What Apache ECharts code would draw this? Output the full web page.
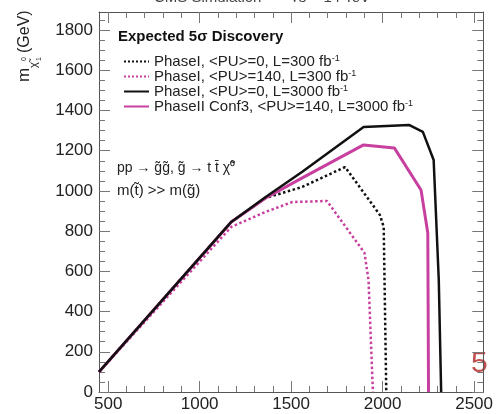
<!DOCTYPE html>
<html>
<head>
<meta charset="utf-8">
<script src="https://cdn.jsdelivr.net/npm/echarts@6/dist/echarts.min.js"></script>
<style>html,body{margin:0;padding:0;background:#fff}#c{width:496px;height:414px}</style>
</head>
<body>
<div id="c"></div>
<script>
// ---- data (gluino mass vs neutralino mass, 5 sigma discovery contours) ----
const phaseI_PU0_300_x   = [450, 1173, 1361, 1561, 1795, 1985, 2006, 2020];
const phaseI_PU0_300_y   = [100,  846,  965, 1020, 1119,  881,  821,    0];
const phaseI_PU140_300_x = [450, 1173, 1361, 1507, 1696, 1901, 1923, 1947];
const phaseI_PU140_300_y = [100,  821,  896,  945,  950,  692,  557,    0];
const phaseI_PU0_3000_x  = [450, 1173, 1361, 1561, 1896, 2144, 2220, 2279, 2307, 2320];
const phaseI_PU0_3000_y  = [100,  846,  970, 1095, 1318, 1328, 1294, 1154,  557,    0];
const phaseII_PU140_3000_x = [450, 1173, 1361, 1561, 1896, 2064, 2210, 2247, 2251];
const phaseII_PU140_3000_y = [100,  846,  965, 1065, 1229, 1214, 1005,  791,    0];

const seriesNames = ['PhaseI, <PU>=0, L=300', 'PhaseI, <PU>=140, L=300', 'PhaseI, <PU>=0, L=3000', 'PhaseII Conf3, <PU>=140, L=3000'];
const xTickLabels = [500, 1000, 1500, 2000, 2500];
const xMinorTicks = [500,600,700,800,900,1000,1100,1200,1300,1400,1500,1600,1700,1800,1900,2000,2100,2200,2300,2400,2500];
const yTickLabels = [0, 200, 400, 600, 800, 1000, 1200, 1400, 1600, 1800];
const yMinorTicks = [0,50,100,150,200,250,300,350,400,450,500,550,600,650,700,750,800,850,900,950,1000,1050,1100,1150,1200,1250,1300,1350,1400,1450,1500,1550,1600,1650,1700,1750,1800,1850];

const zip = (xs, ys) => xs.map((x, i) => [x, ys[i]]);
const FONT = 'Liberation Sans, Arial, sans-serif';
const AX = '#555';
const MAG = '#c8409f';

function xAx(pos, major) {
  return {
    type: 'value', min: 450, max: 2550, position: pos,
    axisLine: { show: major, onZero: false, lineStyle: { color: AX, width: 1 } },
    axisTick: { show: true, inside: true, length: major ? 11 : 6, customValues: major ? xTickLabels : xMinorTicks, lineStyle: { color: '#777', width: 1 } },
    axisLabel: { show: major && pos === 'bottom', customValues: xTickLabels, formatter: v => String(v), fontSize: 17, color: '#222', fontFamily: FONT, margin: 4 },
    splitLine: { show: false }
  };
}
function yAx(pos, major) {
  return {
    type: 'value', min: 0, max: 1890, position: pos,
    axisLine: { show: major, onZero: false, lineStyle: { color: AX, width: 1 } },
    axisTick: { show: true, inside: true, length: major ? 11 : 6, customValues: major ? yTickLabels : yMinorTicks, lineStyle: { color: '#777', width: 1 } },
    axisLabel: { show: major && pos === 'left', customValues: yTickLabels, formatter: v => String(v), fontSize: 17, color: '#222', fontFamily: FONT, margin: 6 },
    splitLine: { show: false }
  };
}

const chart = echarts.init(document.getElementById('c'), null, { renderer: 'canvas' });
chart.setOption({
  animation: false,
  backgroundColor: '#fff',
  grid: { left: 99, right: 8, top: 12, bottom: 22, containLabel: false },
  xAxis: [xAx('bottom', true), xAx('bottom', false), xAx('top', true), xAx('top', false)],
  yAxis: [yAx('left', true), yAx('left', false), yAx('right', true), yAx('right', false)],
  legend: {
    orient: 'vertical', left: 118, top: 49, itemWidth: 25, itemHeight: 10, itemGap: 0,
    data: seriesNames,
    itemStyle: { opacity: 0 },
    textStyle: { fontFamily: FONT, fontSize: 15, color: '#222', lineHeight: 15,
      rich: { t: { fontFamily: FONT, fontSize: 15, color: '#222', lineHeight: 15 }, s: { fontFamily: FONT, fontSize: 9, color: '#222', lineHeight: 15, verticalAlign: 'top' } } },
    formatter: n => '{t|' + n + ' fb}{s|-1}'
  },
  series: [
    { name: seriesNames[0], type: 'line', data: zip(phaseI_PU0_300_x, phaseI_PU0_300_y), symbol: 'none', z: 3,
      lineStyle: { color: '#111', width: 2.5, type: 'dotted' }, itemStyle: { color: '#111' } },
    { name: seriesNames[1], type: 'line', data: zip(phaseI_PU140_300_x, phaseI_PU140_300_y), symbol: 'none', z: 2,
      lineStyle: { color: MAG, width: 2.5, type: 'dotted' }, itemStyle: { color: MAG } },
    { name: seriesNames[2], type: 'line', data: zip(phaseI_PU0_3000_x, phaseI_PU0_3000_y), symbol: 'none', z: 4,
      lineStyle: { color: '#111', width: 2.5 }, itemStyle: { color: '#111' } },
    { name: seriesNames[3], type: 'line', data: zip(phaseII_PU140_3000_x, phaseII_PU140_3000_y), symbol: 'none', z: 3,
      lineStyle: { color: MAG, width: 3 }, itemStyle: { color: MAG } }
  ],
  graphic: [
    { type: 'text', left: 118, top: 29, style: { text: 'Expected 5σ Discovery', font: 'bold 15px ' + FONT, fill: '#111' } },
    { type: 'text', left: 117, top: 161, style: { text: 'pp → g̃g̃, g̃ → t t̄ χ̃⁰', font: '14px ' + FONT, fill: '#222' } },
    { type: 'text', left: 117, top: 183, style: { text: 'm(t̃) >> m(g̃)', font: '15px ' + FONT, fill: '#222' } },
    { type: 'text', x: 262, y: 5, style: { text: 'CMS Simulation       √s = 14 TeV', font: '15px ' + FONT, fill: '#444', textAlign: 'center', textVerticalAlign: 'bottom' } },
    { type: 'text', left: 471, top: 349, style: { text: '5', font: '30px ' + FONT, fill: '#c0504d' } },
    { type: 'group', x: 33, y: 82, rotation: Math.PI / 2, children: [
      { type: 'text', x: 0, y: 0, style: { text: 'm', font: '17px ' + FONT, fill: '#222', textVerticalAlign: 'bottom' } },
      { type: 'text', x: 14, y: 6, style: { text: 'χ̃', font: '11px ' + FONT, fill: '#222', textVerticalAlign: 'bottom' } },
      { type: 'text', x: 21, y: 10, style: { text: '1', font: '7px ' + FONT, fill: '#222', textVerticalAlign: 'bottom' } },
      { type: 'text', x: 21, y: -5, style: { text: '0', font: '7px ' + FONT, fill: '#222', textVerticalAlign: 'bottom' } },
      { type: 'text', x: 29, y: 0, style: { text: '(GeV)', font: '16px ' + FONT, fill: '#222', textVerticalAlign: 'bottom' } }
    ] }
  ]
});
</script>
</body>
</html>
